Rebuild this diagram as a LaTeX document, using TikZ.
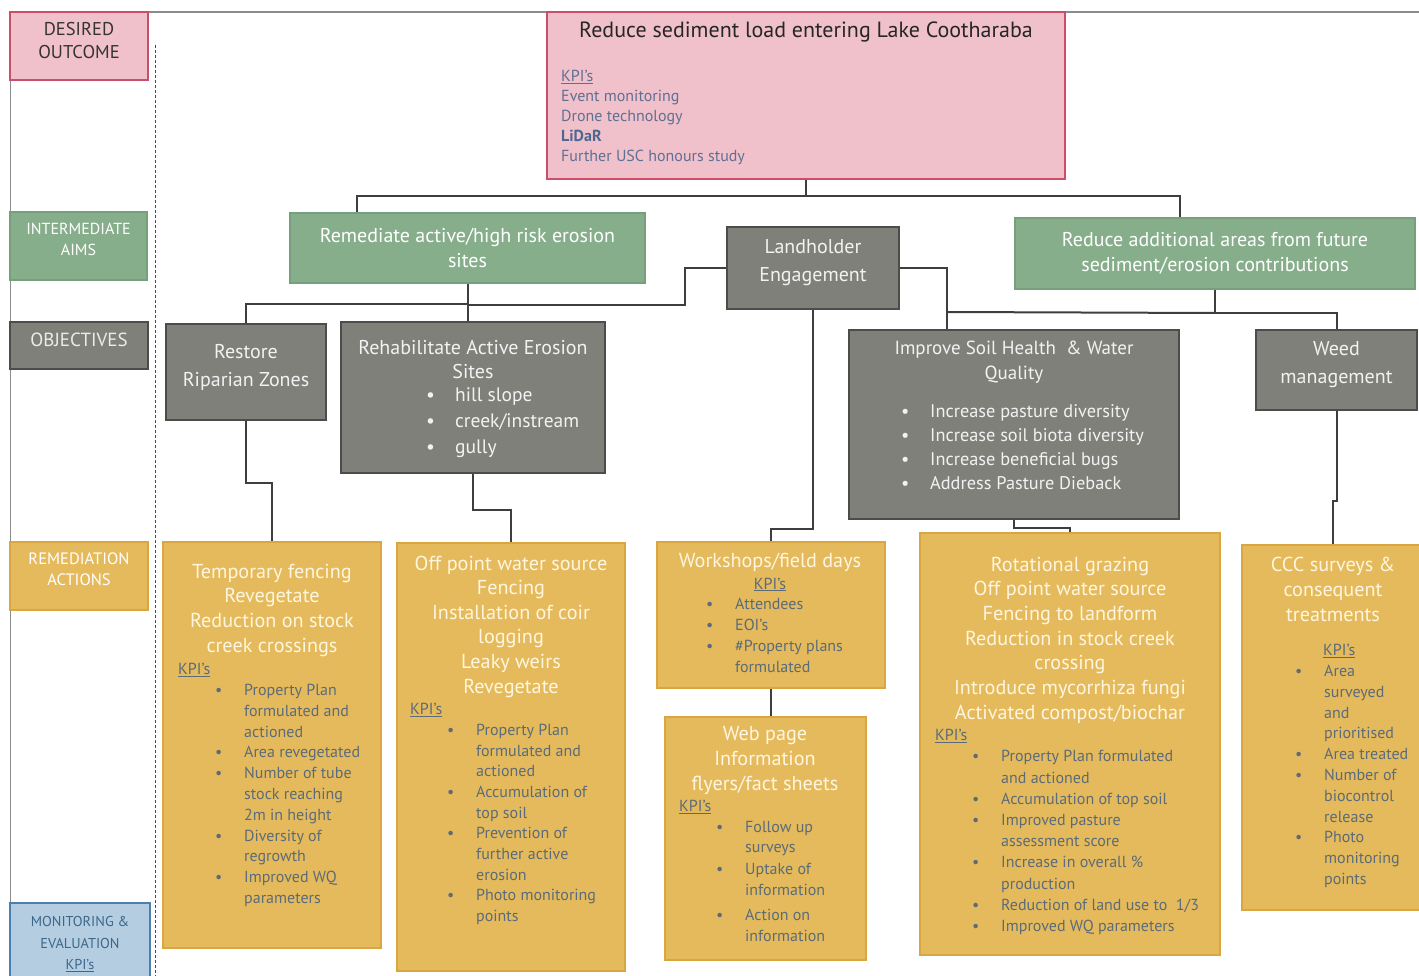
\documentclass[tikz,border=0pt]{standalone}
\usepackage{fontspec}
\setmainfont{PT Sans}
\usetikzlibrary{positioning,calc}
\definecolor{pinkfill}{HTML}{F1C1CB}
\definecolor{pinkline}{HTML}{C94F6A}
\definecolor{greenfill}{HTML}{87AE8B}
\definecolor{greenline}{HTML}{76A07C}
\definecolor{greyfill}{HTML}{80807A}
\definecolor{greyline}{HTML}{4C4C4A}
\definecolor{goldfill}{HTML}{E5BA5C}
\definecolor{goldline}{HTML}{D8A73F}
\definecolor{bluefill}{HTML}{B5CDE1}
\definecolor{blueline}{HTML}{4A80AE}
\definecolor{slate}{HTML}{5B6B78}
\definecolor{kpiblue}{HTML}{5F6F92}
\definecolor{lidar}{HTML}{4D6790}
\definecolor{cream}{HTML}{FFF6DF}
\definecolor{linkc}{HTML}{3E3E3E}
\newcommand{\fs}[2]{\fontsize{#1}{#2}\selectfont}
\newcommand{\kpi}{\underline{KPI's}}
\newcommand{\kb}[1]{\hspace*{37pt}\makebox[29pt][l]{\textbullet}#1}
\newcommand{\kc}[1]{\hspace*{66pt}#1}

\begin{document}
\begin{tikzpicture}[x=1pt, y=-1pt,
  lbl/.style={draw, line width=2pt, align=center, inner sep=0pt},
  outbox/.style={lbl, fill=pinkfill, draw=pinkline},
  aimbox/.style={lbl, fill=greenfill, draw=greenline, text=white, font=\fs{20}{25}},
  objbox/.style={lbl, fill=greyfill, draw=greyline, line width=2.6pt, text=white!95!black, font=\fs{20}{28}, text depth=14pt},
  actbox/.style={lbl, fill=goldfill, draw=goldline},
  acttitle/.style={anchor=north, align=center, inner sep=0pt, text=cream, font=\fs{20.2}{24.8}},
  kpilist/.style={anchor=north west, align=left, inner sep=0pt, text=slate, font=\fs{16}{20.8}},
  link/.style={draw=linkc, line width=2pt}]
\useasboundingbox (0,0) rectangle (1419,976);

% frame and divider
\draw[black!45, line width=1pt] (10,12) -- (10,976);
\draw[black!45, line width=1.2pt] (148,12) -- (1419,12);
\draw[black!70, line width=1pt, dash pattern=on 3pt off 2pt] (155,45) -- (155,976);

% row labels
\node[outbox, minimum width=138, minimum height=68, text=black!80, font=\fs{18.5}{23}, text depth=12pt] (lblout) at (79,46) {DESIRED\\OUTCOME};
\node[lbl, fill=greenfill, draw=greenline, minimum width=137, minimum height=68, text=white, font=\fs{16}{21}, text depth=14pt] (lblaim) at (78.5,246) {INTERMEDIATE\\AIMS};
\node[lbl, fill=greyfill, draw=greyline, minimum width=138, minimum height=47, text=white!92!black, font=\fs{19}{20}, text depth=12pt] (lblobj) at (79,345.5) {OBJECTIVES};
\node[actbox, minimum width=138, minimum height=68, text=white, font=\fs{16.5}{21}, text depth=14pt] (lblrem) at (79,576) {REMEDIATION\\ACTIONS};
\node[lbl, fill=bluefill, draw=blueline, minimum width=140, minimum height=82, text=blueline!80!black, font=\fs{14.3}{21.5}] (lblmon) at (80,944) {MONITORING \&\\EVALUATION\\\underline{KPI's}};

% desired outcome
\node[outbox, minimum width=518, minimum height=167] (outcome) at (806,95.5) {};
\node[anchor=north, inner sep=0pt, text=black!85, font=\fs{22}{24}] (outcome-t) at (806,21.9) {Reduce sediment load entering Lake Cootharaba};
\node[anchor=north west, align=left, inner sep=0pt, text=kpiblue, font=\fs{16}{20}] (outcome-k) at (561,70.1)
  {\kpi\\Event monitoring\\Drone technology\\\textbf{\color{lidar}LiDaR}\\Further USC honours study};

% intermediate aims
\node[aimbox, minimum width=355, minimum height=70] (aimL) at (467.5,248) {Remediate active/high risk erosion\\sites};
\node[aimbox, minimum width=400, minimum height=71] (aimR) at (1215,253.5) {Reduce additional areas from future\\sediment/erosion contributions};

% objectives
\node[objbox, minimum width=172, minimum height=82] (land) at (813,268) {Landholder\\Engagement};
\node[objbox, minimum width=160, minimum height=96] (restore) at (246,372) {Restore\\Riparian Zones};
\node[objbox, minimum width=264, minimum height=151] (rehab) at (473,397.5) {};
\node[anchor=north, align=center, inner sep=0pt, text=white!95!black, font=\fs{20}{24}] (rehab-t) at (473,339.6) {Rehabilitate Active Erosion\\Sites};
\node[anchor=north west, align=left, inner sep=0pt, text=white!95!black, font=\fs{19.5}{26}] (rehab-l) at (389,387.8)
  {\kb{hill slope}\\\kb{creek/instream}\\\kb{gully}};
\node[objbox, minimum width=330, minimum height=189] (improve) at (1014,424.5) {};
\node[anchor=north, align=center, inner sep=0pt, text=white!95!black, font=\fs{19}{25}] (improve-t) at (1014,341) {Improve Soil Health \ \& Water\\Quality};
\node[anchor=north west, align=left, inner sep=0pt, text=white!95!black, font=\fs{18.3}{24}] (improve-l) at (864,404.2)
  {\kb{Increase pasture diversity}\\\kb{Increase soil biota diversity}\\\kb{Increase beneficial bugs}\\\kb{Address Pasture Dieback}};
\node[objbox, minimum width=161, minimum height=80, text depth=15pt] (weed) at (1336.5,370) {Weed\\management};

% remediation actions
\node[actbox, minimum width=218, minimum height=406] (tempf) at (272,745) {};
\node[acttitle] (tempf-t) at (272,563.5) {Temporary fencing\\Revegetate\\Reduction on stock\\creek crossings};
\node[kpilist] (tempf-k) at (178,663.1)
  {\kpi\\\kb{Property Plan}\\\kc{formulated and}\\\kc{actioned}\\\kb{Area revegetated}\\\kb{Number of tube}\\\kc{stock reaching}\\\kc{2m in height}\\\kb{Diversity of}\\\kc{regrowth}\\\kb{Improved WQ}\\\kc{parameters}};

\node[actbox, minimum width=228, minimum height=428] (offpt) at (511,757) {};
\node[acttitle, font=\fs{20.2}{24.6}] (offpt-t) at (511,555.5) {Off point water source\\Fencing\\Installation of coir\\logging\\Leaky weirs\\Revegetate};
\node[kpilist, font=\fs{16}{20.7}] (offpt-k) at (410,703.1)
  {\kpi\\\kb{Property Plan}\\\kc{formulated and}\\\kc{actioned}\\\kb{Accumulation of}\\\kc{top soil}\\\kb{Prevention of}\\\kc{further active}\\\kc{erosion}\\\kb{Photo monitoring}\\\kc{points}};

\node[actbox, minimum width=228, minimum height=146] (works) at (771,615) {};
\node[acttitle, font=\fs{20.2}{22}] (works-t) at (770,552.5) {Workshops/field days\\{\color{slate}\fs{16}{22}\kpi}};
\node[kpilist, font=\fs{16}{21}] (works-k) at (669,598.1)
  {\kb{Attendees}\\\kb{EOI's}\\\kb{\#Property plans}\\\kc{formulated}};

\node[actbox, minimum width=201, minimum height=243] (web) at (765.5,838.5) {};
\node[acttitle, font=\fs{20.2}{25}] (web-t) at (765,726.5) {Web page\\Information\\flyers/fact sheets};
\node[kpilist, font=\fs{16}{20.6}] (web-k) at (679,800.1)
  {\kpi\\\kb{Follow up}\\\kc{surveys}\\[1.5pt]\kb{Uptake of}\\\kc{information}\\[4.5pt]\kb{Action on}\\\kc{information}};

\node[actbox, minimum width=300, minimum height=422] (rotat) at (1070,744) {};
\node[acttitle, font=\fs{20.2}{24.7}] (rotat-t) at (1070,556.5) {Rotational grazing\\Off point water source\\Fencing to landform\\Reduction in stock creek\\crossing\\Introduce mycorrhiza fungi\\Activated compost/biochar};
\node[kpilist, font=\fs{16}{21.2}] (rotat-k) at (935,729.1)
  {\kpi\\\kb{Property Plan formulated}\\\kc{and actioned}\\\kb{Accumulation of top soil}\\\kb{Improved pasture}\\\kc{assessment score}\\\kb{Increase in overall \%}\\\kc{production}\\\kb{Reduction of land use to \ 1/3}\\\kb{Improved WQ parameters}};

\node[actbox, minimum width=182, minimum height=365] (ccc) at (1333,727.5) {};
\node[acttitle, font=\fs{20.2}{25}] (ccc-t) at (1333,556.5) {CCC surveys \&\\consequent\\treatments};
\node[kpilist] (ccc-k) at (1258,644.1)
  {\hspace*{65pt}\kpi\\\kb{Area}\\\kc{surveyed}\\\kc{and}\\\kc{prioritised}\\\kb{Area treated}\\\kb{Number of}\\\kc{biocontrol}\\\kc{release}\\\kb{Photo}\\\kc{monitoring}\\\kc{points}};

% connectors
\draw[link] (outcome.south) |- ([xshift=-110.5pt,yshift=16pt]aimL.north) -- ([xshift=-110.5pt]aimL.north);
\draw[link] (outcome.south) |- ([xshift=-35pt,yshift=21pt]aimR.north) -- ([xshift=-35pt]aimR.north);
\draw[link] (aimL.south) -- ++(0,20) -| (restore.north);
\draw[link] (aimL.south) -- (aimL.south |- rehab.north);
\coordinate (jL) at (aimL.south |- 0,305);
\draw[link] (land.west) -- ++(-41,0) |- (jL);
\draw[link] (land.east) -| ([xshift=-67pt]improve.north);
\coordinate (jR) at ([xshift=-67pt]improve.north |- 0,312);
\draw[link] (aimR.south) -- ++(0,23) -| (weed.north);
\draw[link] ([yshift=-23pt]aimR.south) -- (jR);
\draw[link] (land.south) -- ++(0,219) -| (works.north);
\draw[link] (works.south) -- (works.south |- web.north);
\draw[link] (restore.south) -- ++(0,62) -| (tempf.north);
\draw[link] (rehab.south) -- ++(0,36) -| (offpt.north);
\draw[link] (improve.south) -- ++(0,8) -| (rotat.north);
\draw[link] (weed.south) -- ++(0,90) -| (ccc.north);
\end{tikzpicture}
\end{document}
